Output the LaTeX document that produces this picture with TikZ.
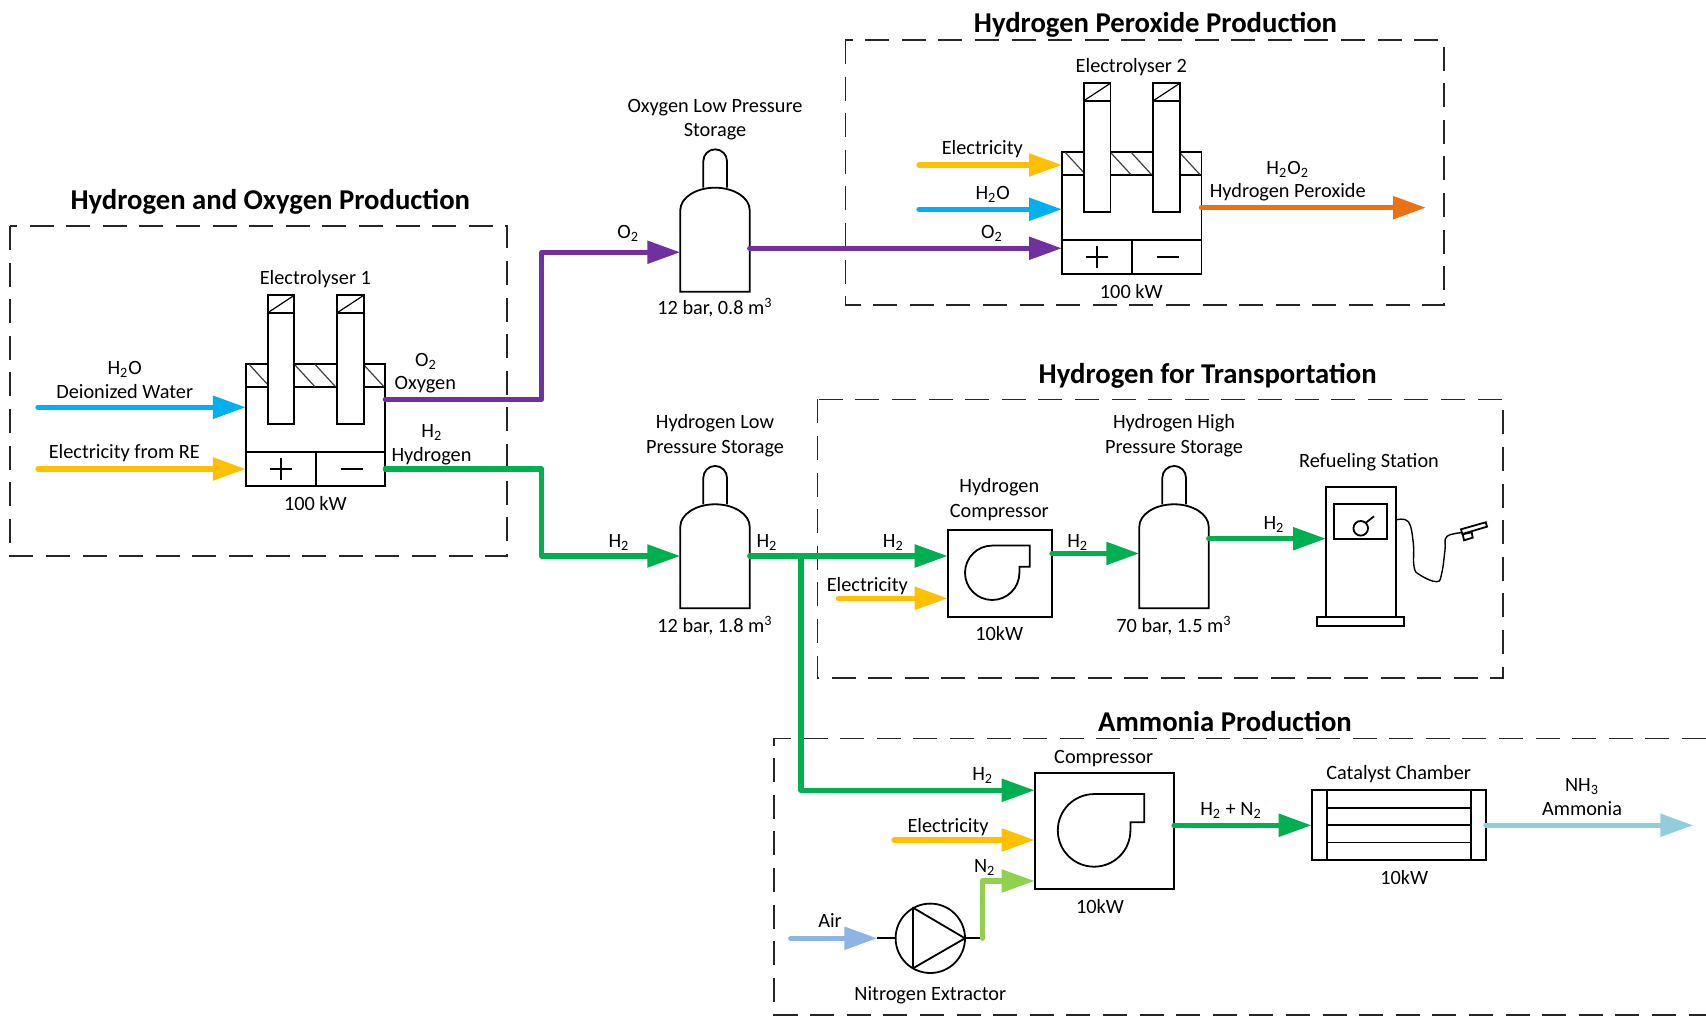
\documentclass[tikz,border=0pt]{standalone}
\usepackage{fontspec}
\setmainfont{Carlito}
\usepackage{tikz}
\usetikzlibrary{arrows.meta, positioning}

\definecolor{waterblue}{HTML}{00B0F0}
\definecolor{powergold}{HTML}{FFC000}
\definecolor{oxypurple}{HTML}{7030A0}
\definecolor{hydgreen}{HTML}{00B050}
\definecolor{peroxorange}{HTML}{EB7112}
\definecolor{nitgreen}{HTML}{92D050}
\definecolor{airblue}{HTML}{8EB4E3}
\definecolor{ammblue}{HTML}{92CDDC}

\tikzset{
    electrolyser/.pic={
        \draw (0,34.6) -- (135,34.6) (67.7,0) -- (67.7,34.6);
        \draw (0,99.6) -- (135,99.6);
        \draw [line width=0.6pt] (34,6.3) -- (34,28.3) (23,17.3) -- (45,17.3) (92,17.3) -- (114,17.3);
        \foreach \hx in {3,47,67,114} {
            \draw [line width=0.6pt, black!75] (\hx,122) -- ++(20,-22.4);
        }
        \foreach \ex in {21.3,88.7} {
            \draw [fill=white] (\ex,62.3) rectangle ++(25.7,128.7);
            \draw (\ex,173.6) -- ++(25.7,0);
            \draw [line width=0.6pt] (\ex,173.6) -- ++(25.7,17.4);
        }
    },
    tank/.pic={
        \draw (0,0) -- (69.4,0) -- (69.4,81.6) arc[start angle=0, end angle=180, x radius=34.7, y radius=22.4] -- cycle;
        \draw (23,104) -- (23,130.5) arc[start angle=180, end angle=0, radius=11.85] -- (46.7,104);
    },
    blower/.pic={
        \draw (82,71.1) -- (44.5,71.1) arc[start angle=90, end angle=360, radius=27.2] -- (71.7,50) -- (82,50) -- cycle;
    }
}

\begin{document}
\begin{tikzpicture}[
    x=0.5pt, y=0.5pt,
    line width=0.9pt,
    zone/.style={
        draw=black!85,
        line width=0.8pt,
        dash pattern=on 12pt off 6.3pt
    },
    equip/.style={
        draw,
        line width=0.9pt,
        inner sep=0pt,
        outer sep=0pt,
        anchor=south west
    },
    tankbody/.style={
        inner sep=0pt,
        outer sep=0pt,
        anchor=south west,
        minimum width=34.7pt,
        minimum height=52pt
    },
    lbl/.style={
        anchor=base,
        inner sep=0pt,
        yshift=-0.5pt,
        font=\fontsize{10.15}{12}\selectfont
    },
    zonetitle/.style={
        anchor=base,
        inner sep=0pt,
        yshift=-0.5pt,
        font=\fontsize{14.35}{17}\selectfont\bfseries
    },
    flow/.style={
        line width=2.65pt,
        line cap=round,
        line join=round,
        -{Triangle[length=16.5pt,width=11pt]}
    }
]
\useasboundingbox (0,0) rectangle (1706,1016);

% Zones
\draw [zone] (10,790) rectangle (507,460);
\draw [zone] (845.3,976) rectangle (1444,711);
\draw [zone] (817.3,616.6) rectangle (1503,338);
\draw [zone] (1706,277.3) -- (774,277.3) -- (774,1) -- (1706,1);

\node (titleho) [zonetitle] at (270.3,807.7) {Hydrogen and Oxygen Production};
\node (titlehp) [zonetitle] at (1155.5,984.5) {Hydrogen Peroxide Production};
\node (titleht) [zonetitle] at (1207.7,633) {Hydrogen for Transportation};
\node (titleam) [zonetitle] at (1225,285) {Ammonia Production};

% Equipment
\node (elec1) [equip, minimum width=69.7pt, minimum height=61pt] at (245.9,529.7) {};
\pic [xscale=1.03] at (elec1.south west) {electrolyser};
\node (elec2) [equip, minimum width=69.7pt, minimum height=61pt] at (1062,741.7) {};
\pic [xscale=1.03] at (elec2.south west) {electrolyser};

\node (oxytank) [tankbody] at (680.3,724.3) {};
\pic at (oxytank.south west) {tank};
\node (lowtank) [tankbody] at (680.3,407.7) {};
\pic at (lowtank.south west) {tank};
\node (hightank) [tankbody] at (1139.3,407.7) {};
\pic at (hightank.south west) {tank};

\node (comp1) [equip, minimum width=52.15pt, minimum height=43.35pt] at (947.7,399.3) {};
\pic at (comp1.south west) {blower};
\node (comp2) [equip, minimum width=69.65pt, minimum height=58pt] at (1034.7,127) {};
\pic [scale=1.335] at (comp2.south west) {blower};

% Refueling station
\node (pump) [equip, minimum width=34.85pt, minimum height=65pt] at (1326,399.3) {};
\draw (1317.3,390) rectangle (1404.3,399.3);
\draw (1334.3,477.3) rectangle (1387,512.3);
\draw (1360.7,487.7) circle[radius=7.3];
\draw (1365.5,493) -- (1374,499.7);
\draw [line width=0.7pt] plot[smooth, tension=0.7] coordinates {(1395.7,496) (1408.3,494.3) (1413.3,472.7) (1414,449.3) (1420,441) (1436.7,434.3) (1441.7,442.7) (1445,466) (1446.7,479.3) (1461.7,483.3)};
\draw (1461,486.7) -- (1485.7,493.7) -- (1487,489.3) -- (1462.3,482) -- cycle;
\draw (1462.7,481.7) -- (1471.7,483.7) -- (1472.7,478.3) -- (1464,475.7) -- cycle;

% Catalyst chamber
\node (chamber) [equip, minimum width=87.15pt, minimum height=34.9pt] at (1311.7,156) {};
\draw (1327,156) -- (1327,225.8) (1471.3,156) -- (1471.3,225.8);
\foreach \cy in {173.4,190.7,208} {
    \draw (1327,\cy) -- (1471.3,\cy);
}

% Nitrogen extractor
\node (extractor) [circle, draw, inner sep=0pt, outer sep=0pt, minimum size=34.7pt] at (930.3,77.7) {};
\draw [line join=round] (913,108.3) -- (913,47.7) -- (extractor.east) -- cycle;

% Free ends of the flows
\coordinate (h2oin) at (38,608.7);
\coordinate (rein) at (38,547);
\coordinate (oxyout) at (elec1.east |- 0,616.7);
\coordinate (hydout) at (elec1.east |- rein);
\coordinate (oxycorner) at (541.7,763.7);
\coordinate (hydcorner) at (541.7,460);
\coordinate (oxyfeed) at (oxytank.east |- 0,767.7);
\coordinate (pow2in) at (919,851);
\coordinate (h2o2in) at (919,806.7);
\coordinate (peroxout) at (1426,808.3);
\coordinate (branch) at (801,460);
\coordinate (comp2h2) at (branch |- 0,225.7);
\coordinate (pow3in) at (838.3,417.7);
\coordinate (hyd3) at (comp1.east |- 0,462.5);
\coordinate (hyd4) at (hightank.east |- 0,477.3);
\coordinate (pow4in) at (894,176);
\coordinate (airin) at (790.7,77.7);
\coordinate (airend) at (877.3,77.7);
\coordinate (nitout) at (982.3,77.7);
\coordinate (nitin) at (982.3,135);
\coordinate (mixout) at (comp2.east |- 0,190.7);
\coordinate (ammout) at (1693.3,190.7);

% Paths
\draw [flow, waterblue] (h2oin) -- (h2oin -| elec1.west);
\draw [flow, powergold] (rein) -- (rein -| elec1.west);
\draw [flow, oxypurple] (oxyout) -- (oxyout -| oxycorner) -- (oxycorner) -- (oxycorner -| oxytank.west);
\draw [flow, hydgreen] (hydout) -- (hydout -| hydcorner) -- (hydcorner) -- (hydcorner -| lowtank.west);
\draw [flow, oxypurple] (oxyfeed) -- (oxyfeed -| elec2.west);
\draw [flow, powergold] (pow2in) -- (pow2in -| elec2.west);
\draw [flow, waterblue] (h2o2in) -- (h2o2in -| elec2.west);
\draw [flow, peroxorange] (elec2.east |- peroxout) -- (peroxout);
\draw [flow, hydgreen] (lowtank.east |- branch) -- (branch -| comp1.west);
\draw [flow, hydgreen] (branch) -- (comp2h2) -- (comp2h2 -| comp2.west);
\draw [flow, powergold] (pow3in) -- (pow3in -| comp1.west);
\draw [flow, hydgreen] (hyd3) -- (hyd3 -| hightank.west);
\draw [flow, hydgreen] (hyd4) -- (hyd4 -| pump.west);
\draw [flow, powergold] (pow4in) -- (pow4in -| comp2.west);
\draw [flow, airblue] (airin) -- (airend);
\draw (airend) -- (extractor.west);
\draw (extractor.east) -- (nitout);
\draw [flow, nitgreen] (nitout) -- (nitin) -- (nitin -| comp2.west);
\draw [flow, hydgreen] (mixout) -- (mixout -| chamber.west);
\draw [flow, ammblue] (chamber.east |- ammout) -- (ammout);

% Labels
\node (le1) [lbl] at (315.4,732) {Electrolyser 1};
\node (le1kw) [lbl] at (315.4,506) {100 kW};
\node (lwater) [lbl] at (124.7,642) {H\textsubscript{2}O};
\node (lwatername) [lbl] at (124.7,618) {Deionized Water};
\node (lre) [lbl] at (124.3,558) {Electricity from RE};
\node (lo2a) [lbl] at (426,650) {O\textsubscript{2}};
\node (loxy) [lbl] at (425.3,627.3) {Oxygen};
\node (lh2a) [lbl] at (431.8,579.3) {H\textsubscript{2}};
\node (lhyd) [lbl] at (431.5,555.3) {Hydrogen};
\node (lo2b) [lbl] at (628.3,778.7) {O\textsubscript{2}};
\node (ltoxy) [lbl] at (715,904.3) {Oxygen Low Pressure};
\node (ltoxyb) [lbl] at (715,880.3) {Storage};
\node (ltoxyv) [lbl] at (715,702) {12 bar, 0.8 m\textsuperscript{3}};
\node (le2) [lbl] at (1131.3,944.3) {Electrolyser 2};
\node (le2kw) [lbl] at (1131.3,718.3) {100 kW};
\node (lper) [lbl] at (1287.7,842.7) {H\textsubscript{2}O\textsubscript{2}};
\node (lpername) [lbl] at (1287.7,819.3) {Hydrogen Peroxide};
\node (lpow2) [lbl] at (982.3,862) {Electricity};
\node (lwater2) [lbl] at (992.7,817.7) {H\textsubscript{2}O};
\node (lo2c) [lbl] at (992,778.3) {O\textsubscript{2}};
\node (ltlow) [lbl] at (715,588.3) {Hydrogen Low};
\node (ltlowb) [lbl] at (715,563.7) {Pressure Storage};
\node (ltlowv) [lbl] at (715,384.3) {12 bar, 1.8 m\textsuperscript{3}};
\node (lh2b) [lbl] at (619,469.3) {H\textsubscript{2}};
\node (lh2c) [lbl] at (767,469.3) {H\textsubscript{2}};
\node (lh2d) [lbl] at (893.3,469.3) {H\textsubscript{2}};
\node (lpow3) [lbl] at (867.3,425) {Electricity};
\node (lc1) [lbl] at (999.3,524.3) {Hydrogen};
\node (lc1b) [lbl] at (999.3,499.3) {Compressor};
\node (lc1kw) [lbl] at (999.3,376.7) {10kW};
\node (lh2e) [lbl] at (1077.7,469.3) {H\textsubscript{2}};
\node (lthigh) [lbl] at (1174,588.3) {Hydrogen High};
\node (lthighb) [lbl] at (1174,563.7) {Pressure Storage};
\node (lthighv) [lbl] at (1174,384.3) {70 bar, 1.5 m\textsuperscript{3}};
\node (lh2f) [lbl] at (1274,487.7) {H\textsubscript{2}};
\node (lpump) [lbl] at (1369,549.3) {Refueling Station};
\node (lh2g) [lbl] at (982.7,236.7) {H\textsubscript{2}};
\node (lpow4) [lbl] at (948,184.3) {Electricity};
\node (ln2) [lbl] at (984.7,144) {N\textsubscript{2}};
\node (lair) [lbl] at (830,89.3) {Air};
\node (lext) [lbl] at (930.3,16) {Nitrogen Extractor};
\node (lc2) [lbl] at (1103.7,253.3) {Compressor};
\node (lc2kw) [lbl] at (1100,103.3) {10kW};
\node (lmix) [lbl] at (1231,201.7) {H\textsubscript{2} + N\textsubscript{2}};
\node (lcat) [lbl] at (1398.7,237) {Catalyst Chamber};
\node (lcatkw) [lbl] at (1404.3,132.7) {10kW};
\node (lamm) [lbl] at (1582,225) {NH\textsubscript{3}};
\node (lammname) [lbl] at (1582,201.3) {Ammonia};

\end{tikzpicture}
\end{document}
